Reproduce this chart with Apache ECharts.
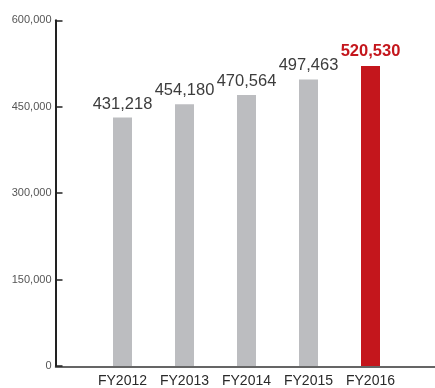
<!DOCTYPE html>
<html>
<head>
<meta charset="utf-8">
<script src="https://cdn.jsdelivr.net/npm/echarts@6/dist/echarts.min.js"></script>
<style>
  html, body { margin: 0; padding: 0; background: #fff; }
  #chart { width: 435px; height: 388px; }
</style>
</head>
<body>
<div id="chart"></div>
<script>
// Fiscal years and their values
const categories = ['FY2012', 'FY2013', 'FY2014', 'FY2015', 'FY2016'];
const values = [431218, 454180, 470564, 497463, 520530];
const yTicks = [0, 150000, 300000, 450000, 600000];

const GRAY = '#bcbdc0';
const RED = '#c4161c';
const fmt = v => v.toLocaleString('en-US');

const lastIdx = values.length - 1;
const barData = values.map((v, i) => ({
  value: v,
  itemStyle: { color: i === lastIdx ? RED : GRAY },
  label: i === lastIdx
    ? { color: RED, fontWeight: 'bold', distance: 6 }
    : { color: '#3c3c3c', fontWeight: 'normal', distance: 5 }
}));

const chart = echarts.init(document.getElementById('chart'), null, { renderer: 'canvas' });
chart.setOption({
  animation: false,
  grid: [
    { left: 91.5, right: 33.5, top: 20.3, bottom: 21 },
    { left: 55.5, right: 0, top: 20.3, bottom: 21 }
  ],
  xAxis: [
    {
      type: 'category',
      gridIndex: 0,
      data: categories,
      axisLine: { show: false },
      axisTick: { show: false },
      axisLabel: {
        interval: 0,
        color: '#2a2a2a',
        fontSize: 14,
        fontFamily: 'Liberation Sans, Arial, sans-serif',
        margin: 8
      }
    },
    {
      type: 'value',
      gridIndex: 1,
      min: 0, max: 1,
      axisLine: { show: true, lineStyle: { color: '#333', width: 1.5 } },
      axisTick: { show: false },
      axisLabel: { show: false },
      splitLine: { show: false }
    }
  ],
  yAxis: [
    {
      type: 'value',
      gridIndex: 0,
      min: yTicks[0],
      max: yTicks[yTicks.length - 1],
      interval: yTicks[1] - yTicks[0],
      offset: 36,
      axisLine: { show: true, lineStyle: { color: '#222', width: 2 } },
      axisTick: { show: true, inside: true, length: 7, lineStyle: { color: '#222', width: 1.5 } },
      axisLabel: {
        color: '#555',
        fontSize: 11,
        fontFamily: 'Liberation Sans, Arial, sans-serif',
        margin: 4,
        formatter: v => fmt(v)
      },
      splitLine: { show: false }
    },
    {
      type: 'value',
      gridIndex: 1,
      show: false
    }
  ],
  series: [
    {
      type: 'bar',
      xAxisIndex: 0,
      yAxisIndex: 0,
      barWidth: 19,
      data: barData,
      label: {
        show: true,
        position: 'top',
        fontSize: 16.5,
        fontFamily: 'Liberation Sans, Arial, sans-serif',
        formatter: p => fmt(p.value)
      }
    }
  ]
});
</script>
</body>
</html>
